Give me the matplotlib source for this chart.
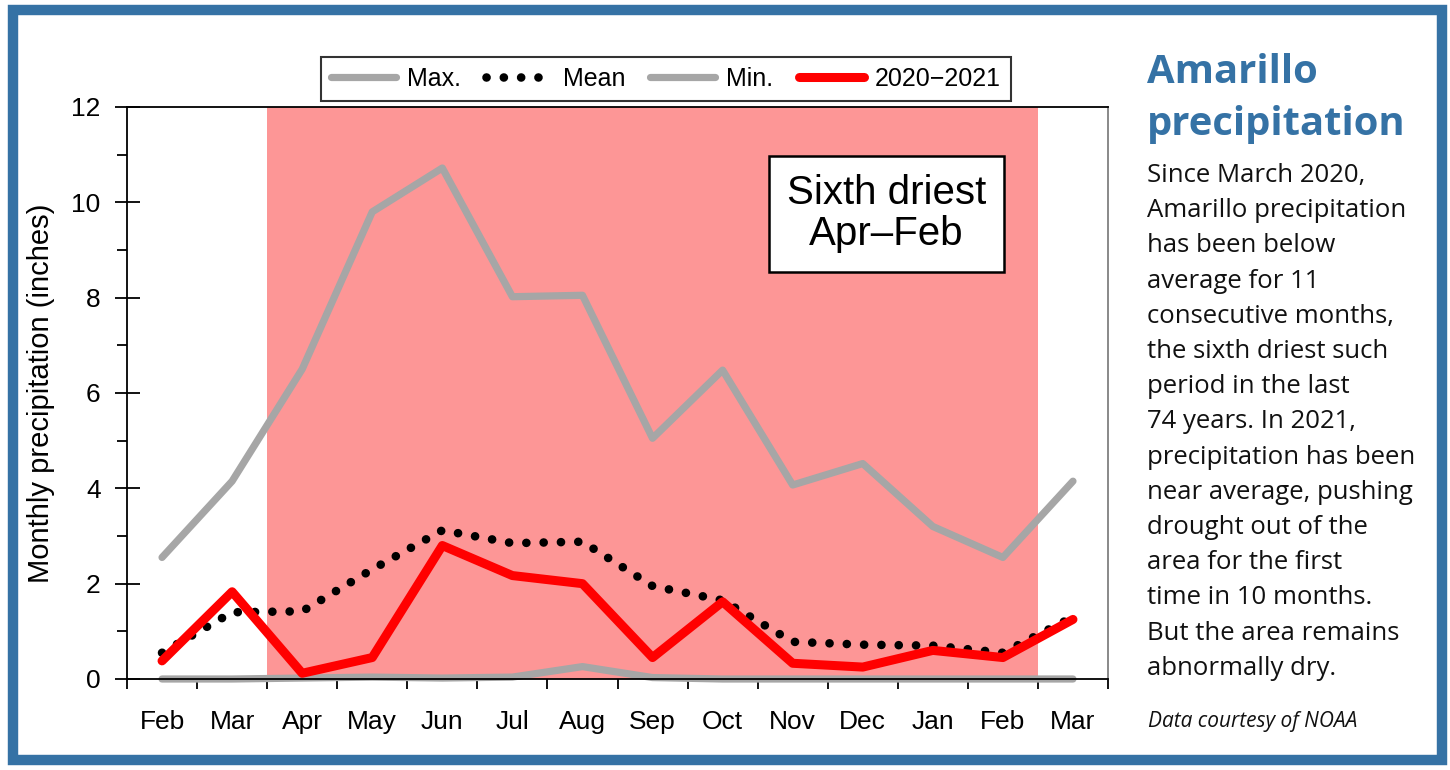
import matplotlib
matplotlib.use("Agg")
import matplotlib.pyplot as plt
from matplotlib.patches import Rectangle
import numpy as np

months = ["Feb", "Mar", "Apr", "May", "Jun", "Jul", "Aug", "Sep", "Oct", "Nov", "Dec", "Jan", "Feb", "Mar"]
max_precip = [2.55, 4.15, 6.5, 9.8, 10.72, 8.02, 8.05, 5.05, 6.48, 4.07, 4.52, 3.2, 2.55, 4.15]
mean_precip = [0.55, 1.4, 1.42, 2.3, 3.12, 2.85, 2.88, 1.95, 1.65, 0.78, 0.72, 0.7, 0.55, 1.3]
min_precip = [0.0, 0.0, 0.02, 0.04, 0.02, 0.04, 0.26, 0.03, 0.0, 0.0, 0.0, 0.0, 0.0, 0.0]
precip_2020 = [0.38, 1.83, 0.12, 0.45, 2.8, 2.17, 2.0, 0.45, 1.62, 0.33, 0.25, 0.6, 0.45, 1.25]
shade_from, shade_to = "Apr", "Feb"  # driest period Apr 2020 - Feb 2021

title_lines = ["Amarillo", "precipitation"]
body_lines = ["Since March 2020,", "Amarillo precipitation", "has been below",
              "average for 11", "consecutive months,", "the sixth driest such",
              "period in the last", "74 years. In 2021,", "precipitation has been",
              "near average, pushing", "drought out of the", "area for the first",
              "time in 10 months.", "But the area remains", "abnormally dry."]

blue = "#3572a5"
gray = "#a6a6a6"

plt.rcParams['font.family'] = ['Liberation Sans', 'DejaVu Sans']

fig = plt.figure(figsize=(14.5, 7.7), dpi=100)
ax = fig.add_axes([127/1450, 1-679/770, 981/1450, 572/770])

x = np.arange(len(months))
i0 = months.index(shade_from)
i1 = len(months) - 1 - months[::-1].index(shade_to)
ax.axvspan(i0 - 0.5, i1 + 0.5, color="#fd9696", lw=0, zorder=0)

ax.plot(x, max_precip, color=gray, lw=5.2, solid_capstyle="round", solid_joinstyle="round", label="Max.", zorder=2)
ax.plot(x, mean_precip, color="black", lw=6.2, linestyle=(0, (0.01, 2.0)), dash_capstyle="round", label="Mean", zorder=3)
ax.plot(x, min_precip, color=gray, lw=5.2, solid_capstyle="round", solid_joinstyle="round", label="Min.",
        zorder=2, clip_on=False)
ax.plot(x, precip_2020, color="red", lw=6.5, solid_capstyle="round", solid_joinstyle="round", label="2020\u22122021", zorder=4)

ax.set_xlim(-0.5, len(months) - 0.5)
ax.set_ylim(0, 12)
ax.set_yticks(np.arange(0, 13, 2))
ax.set_yticks(np.arange(1, 12, 2), minor=True)
ax.tick_params(axis="y", which="major", direction="inout", length=18, width=1.3, labelsize=19, pad=10)
ax.tick_params(axis="y", which="minor", direction="out", length=7, width=1.3)
ax.set_xticks(np.arange(-0.5, len(months), 1))
ax.set_xticklabels([])
ax.set_xticks(x, minor=True)
ax.set_xticklabels(months, minor=True)
ax.tick_params(axis="x", which="major", direction="out", length=7, width=1.3)
ax.tick_params(axis="x", which="minor", length=0, labelsize=19, pad=22)
for s in ax.spines.values():
    s.set_linewidth(1.3)
ax.spines["right"].set_color("#808080")
ax.set_ylabel("Monthly precipitation (inches)", fontsize=21, labelpad=12)

ax.text(0.774, 0.813, "Sixth driest\nApr\u2013Feb", transform=ax.transAxes, ha="center", va="center",
        fontsize=29, linespacing=1.1,
        bbox=dict(boxstyle="square,pad=0.45", fc="white", ec="black", lw=1.8), zorder=5)

handles, labels = ax.get_legend_handles_labels()
leg = fig.legend(handles, labels, loc="center", bbox_to_anchor=(666/1450, 1-78.5/770), ncol=4,
                 fontsize=18, frameon=True, fancybox=False, edgecolor="black", handlelength=2.6,
                 columnspacing=1.0, handletextpad=0.45, borderpad=0.4)
leg.get_frame().set_linewidth(1.5)

# right text panel
tx = 1147/1450
for k, line in enumerate(title_lines):
    fig.text(tx, 1-(83 + k*52)/770, line, fontsize=28.8, fontweight="bold", color=blue,
             family="Open Sans", va="baseline")
for k, line in enumerate(body_lines):
    fig.text(tx, 1-(182 + k*35.2)/770, line, fontsize=18.5, color="#111111",
             family="Open Sans", va="baseline")
fig.text(1148/1450, 1-727/770, "Data courtesy of NOAA", fontsize=15, style="italic",
         family="Open Sans", color="#111111", va="baseline")

# outer blue frame
fig.patches.append(Rectangle((13/1450, 10/770), 1429/1450, 750/770, transform=fig.transFigure,
                             fill=False, ec=blue, lw=7.5))

fig.savefig("out.png", dpi=100)
